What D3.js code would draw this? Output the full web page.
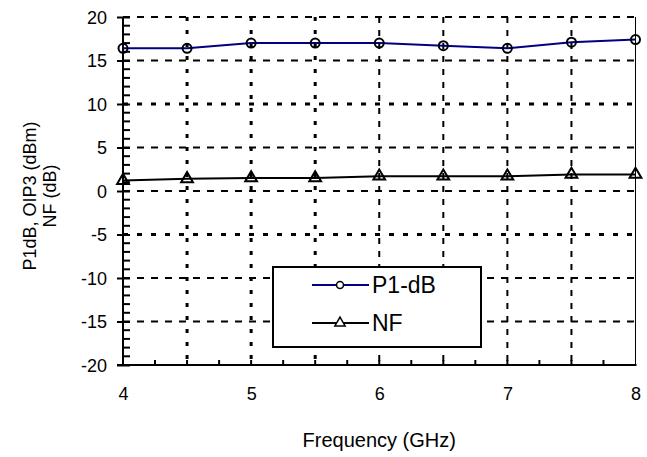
<!DOCTYPE html>
<html>
<head>
<meta charset="utf-8">
<script src="https://cdn.jsdelivr.net/npm/d3@7"></script>
<style>
  body { margin: 0; background: #fff; }
  text { font-family: "Liberation Sans", Arial, sans-serif; fill: #000; }
</style>
</head>
<body>
<div id="chart"></div>
<script>
// datos
const frecuencias = [4, 4.5, 5, 5.5, 6, 6.5, 7, 7.5, 8];
const p1db = [16.4, 16.4, 17.0, 17.0, 17.0, 16.7, 16.4, 17.1, 17.4];
const nf = [1.2, 1.4, 1.5, 1.5, 1.7, 1.7, 1.7, 1.9, 1.9];
const ticksX = [4, 5, 6, 7, 8];
const ticksY = [-20, -15, -10, -5, 0, 5, 10, 15, 20];
const series = ["P1-dB", "NF"];

const W = 647, H = 457;
const izq = 123, der = 635.5, arriba = 17, abajo = 365;

const svg = d3.select("#chart").append("svg")
    .attr("width", W).attr("height", H);

const x = d3.scaleLinear().domain([4, 8]).range([izq, der]);
const y = d3.scaleLinear().domain([-20, 20]).range([abajo, arriba]);

// Rejilla vertical
const gridX = d3.range(4.5, 8, 0.5);
svg.append("g").selectAll("line")
    .data(gridX)
    .enter().append("line")
    .attr("x1", d => x(d)).attr("x2", d => x(d))
    .attr("y1", arriba).attr("y2", abajo)
    .attr("stroke", "#000")
    .attr("stroke-width", d => d <= 5.5 ? 3 : 2)
    .attr("stroke-dasharray", d => d <= 5.5 ? "4,9" : "6,7");

// Rejilla horizontal
svg.append("g").selectAll("line")
    .data(ticksY.filter(d => d > -20))
    .enter().append("line")
    .attr("x1", izq).attr("x2", der)
    .attr("y1", d => y(d)).attr("y2", d => y(d))
    .attr("stroke", "#000")
    .attr("stroke-width", d => (d === 10 || d === -5) ? 3 : 2)
    .attr("stroke-dasharray", d => (d === 10 || d === -5) ? "5,9" : "7,7");

// borde derecho
svg.append("line")
    .attr("x1", der).attr("x2", der)
    .attr("y1", arriba).attr("y2", abajo)
    .attr("stroke", "#000").attr("stroke-width", 1);

// Eje Y (guion normal en los negativos, como el original)
const ejeY = svg.append("g")
    .attr("transform", `translate(${izq},0)`)
    .call(d3.axisLeft(y).tickValues(ticksY).tickSize(6).tickPadding(10).tickFormat(d => String(d)));
ejeY.select(".domain").remove();
ejeY.selectAll("line").attr("stroke-width", 2).attr("x2", -6).attr("x1", 7);
ejeY.selectAll("text").style("font-size", "18px").attr("dy", "0.35em");

svg.append("g")
    .selectAll("line")
    .data(d3.range(-19, 20, 1).filter(d => d % 5 !== 0))
    .enter().append("line")
    .attr("x1", izq).attr("x2", izq + 7)
    .attr("y1", d => y(d)).attr("y2", d => y(d))
    .attr("stroke", "#000").attr("stroke-width", 2);

svg.append("line")
    .attr("x1", izq).attr("x2", izq)
    .attr("y1", arriba).attr("y2", abajo + 1)
    .attr("stroke", "#000").attr("stroke-width", 2);

// Eje X
const ejeX = svg.append("g")
    .attr("transform", `translate(0,${abajo})`)
    .call(d3.axisBottom(x).tickValues(ticksX).tickSize(0).tickPadding(22).tickFormat(d => String(d)));
ejeX.select(".domain").remove();
ejeX.selectAll("text").style("font-size", "18px");

svg.append("g")
    .selectAll("line")
    .data(d3.range(4.25, 8, 0.25))
    .enter().append("line")
    .attr("x1", d => x(d)).attr("x2", d => x(d))
    .attr("y1", abajo).attr("y2", abajo - 5)
    .attr("stroke", "#000").attr("stroke-width", 2);

svg.append("line")
    .attr("x1", izq - 6).attr("x2", der + 1)
    .attr("y1", abajo).attr("y2", abajo)
    .attr("stroke", "#000").attr("stroke-width", 2);

// Lineas
const linea = d3.line()
    .x(d => x(d[0]))
    .y(d => y(d[1]));

const datosP1 = frecuencias.map((f, i) => [f, p1db[i]]);
const datosNF = frecuencias.map((f, i) => [f, nf[i]]);

svg.append("path").datum(datosP1)
    .attr("d", linea).attr("fill", "none")
    .attr("stroke", "#000080").attr("stroke-width", 2);
svg.append("path").datum(datosNF)
    .attr("d", linea).attr("fill", "none")
    .attr("stroke", "#000").attr("stroke-width", 2);

svg.append("g").selectAll("circle")
    .data(datosP1)
    .enter().append("circle")
    .attr("cx", d => x(d[0])).attr("cy", d => y(d[1]))
    .attr("r", 4.5)
    .attr("fill", "none").attr("stroke", "#000").attr("stroke-width", 2);

const tri = d3.symbol().type(d3.symbolTriangle).size(60);
svg.append("g").selectAll("path")
    .data(datosNF)
    .enter().append("path")
    .attr("d", tri)
    .attr("transform", d => `translate(${x(d[0])},${y(d[1])})`)
    .attr("fill", "none").attr("stroke", "#000").attr("stroke-width", 2);

// Leyenda
const leyenda = svg.append("g");
leyenda.append("rect")
    .attr("x", 273).attr("y", 267)
    .attr("width", 208).attr("height", 80)
    .attr("fill", "#fff").attr("stroke", "#000").attr("stroke-width", 2);

const filas = [
    { nombre: series[0], color: "#000080", y: 285 },
    { nombre: series[1], color: "#000", y: 323 }
];
filas.forEach((f, i) => {
    leyenda.append("line")
        .attr("x1", 312).attr("x2", 369)
        .attr("y1", f.y).attr("y2", f.y)
        .attr("stroke", f.color).attr("stroke-width", 2);
    if (i === 0) {
        leyenda.append("circle")
            .attr("cx", 340).attr("cy", f.y).attr("r", 3.5)
            .attr("fill", "#fff").attr("stroke", "#000").attr("stroke-width", 1.5);
    } else {
        leyenda.append("path")
            .attr("d", d3.symbol().type(d3.symbolTriangle).size(45))
            .attr("transform", `translate(340,${f.y})`)
            .attr("fill", "#fff").attr("stroke", "#000").attr("stroke-width", 1.5);
    }
    leyenda.append("text")
        .attr("x", 372).attr("y", f.y)
        .attr("dy", "0.36em")
        .style("font-size", "23px")
        .text(f.nombre);
});

// Titulo eje X
svg.append("text")
    .attr("x", (izq + der) / 2)
    .attr("y", 447)
    .attr("text-anchor", "middle")
    .style("font-size", "20px")
    .text("Frequency (GHz)");

// Titulo eje Y (dos lineas)
const tituloY = svg.append("text")
    .attr("transform", "translate(36,196) rotate(-90)")
    .attr("text-anchor", "middle")
    .style("font-size", "18px");
tituloY.append("tspan").attr("x", 0).attr("y", 0).text("P1dB, OIP3 (dBm)");
tituloY.append("tspan").attr("x", 0).attr("y", 20).text("NF (dB)");
</script>
</body>
</html>
